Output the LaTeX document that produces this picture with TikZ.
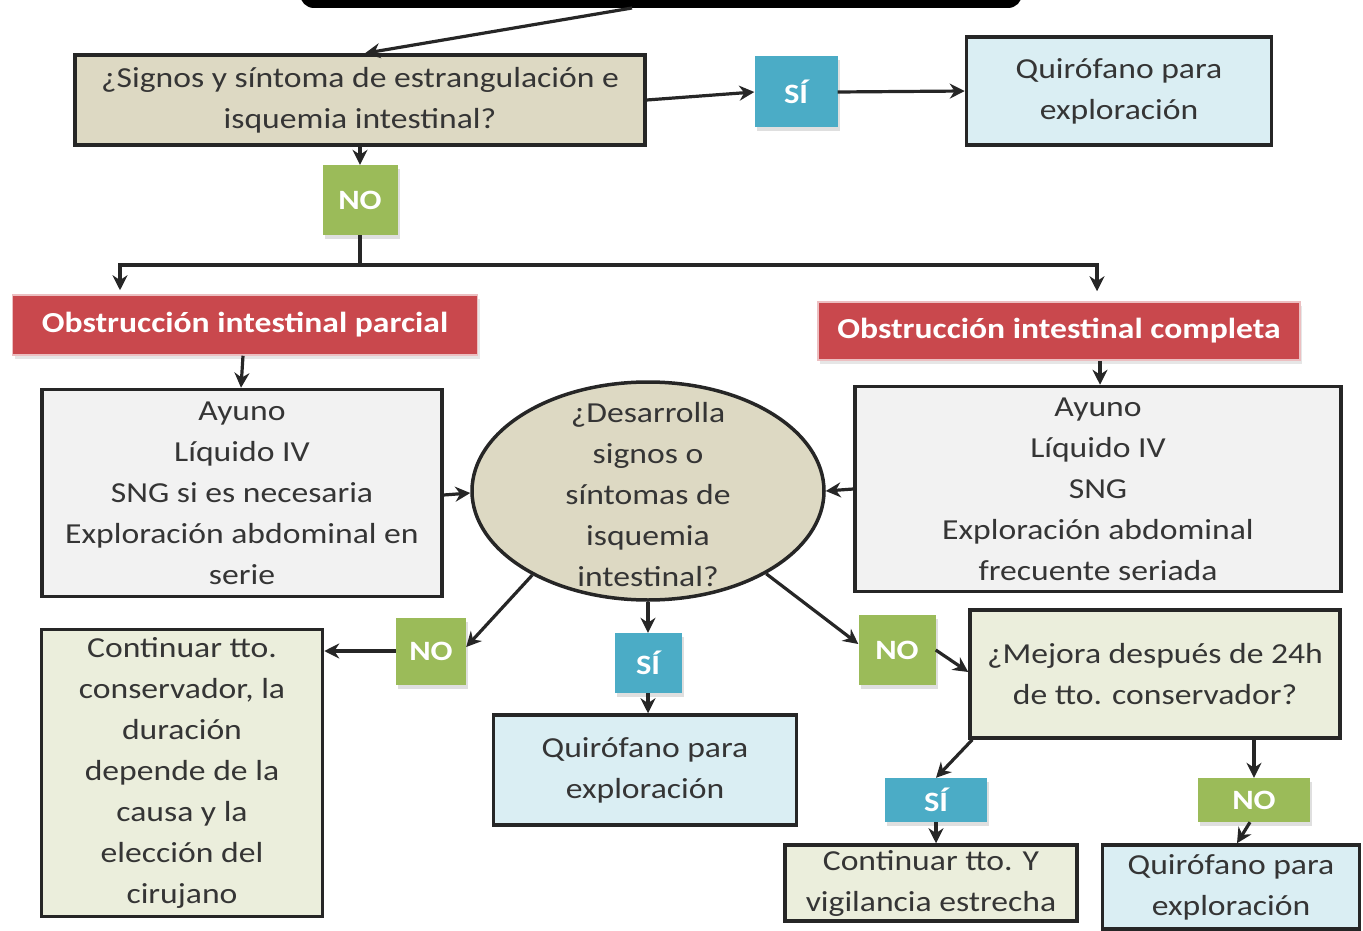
\documentclass[tikz,border=0pt]{standalone}
\usepackage{fontspec}
\setmainfont{Carlito}[FakeStretch=1.16]
\usetikzlibrary{arrows.meta,shapes.geometric,shadows}
\definecolor{beige}{HTML}{DDD9C3}
\definecolor{greybox}{HTML}{F2F2F2}
\definecolor{paleblue}{HTML}{DAEEF3}
\definecolor{paleolive}{HTML}{EBEEDC}
\definecolor{skyblue}{HTML}{4BACC6}
\definecolor{olive}{HTML}{9BBB59}
\definecolor{brick}{HTML}{C9484D}
\definecolor{ink}{HTML}{262626}
\definecolor{txt}{HTML}{353535}
\tikzset{
  box/.style={draw=ink, line width=3.5pt, align=center, text=txt, inner sep=0pt,
    font=\fontsize{29}{41}\selectfont},
  tag/.style={inner sep=0pt, text=white, align=center,
    font=\fontsize{28}{32}\selectfont\bfseries,
    drop shadow={opacity=0.25, shadow xshift=2pt, shadow yshift=-4pt}},
  redbox/.style={fill=brick, draw=brick!35, line width=1.5pt, text=white, inner sep=0pt,
    font=\fontsize{29}{34}\selectfont\bfseries,
    drop shadow={opacity=0.2, shadow xshift=2pt, shadow yshift=-4pt}},
  arr/.style={draw=ink, line width=3.2pt, -{Stealth[length=15pt,width=15pt]}},
  ln/.style={draw=ink, line width=3.2pt}
}
\begin{document}
\begin{tikzpicture}[x=1pt,y=-1pt]
\useasboundingbox (0,0) rectangle (1363,931);
\clip (0,0) rectangle (1363,931);
% top bar
\fill[black, rounded corners=14pt] (300,-40) rectangle (1022,8);
\coordinate (barpt) at (632,8);
% nodes
\node[box, fill=beige, minimum width=570, minimum height=90] (q1) at (360,100)
  {¿Signos y síntoma de estrangulación e\\isquemia intestinal?};
\node[tag, fill=skyblue, minimum width=83, minimum height=71] (si1) at (796,92) {SÍ};
\node[box, fill=paleblue, minimum width=305, minimum height=108] (qa) at (1119,91)
  {Quirófano para\\exploración};
\node[tag, fill=olive, minimum width=75, minimum height=70] (no1) at (360,200) {NO};
\coordinate (split) at (360,265);
\node[redbox, minimum width=465, minimum height=60] (par) at (245,325)
  {Obstrucción intestinal parcial};
\node[redbox, minimum width=482, minimum height=58] (com) at (1059,331)
  {Obstrucción intestinal completa};
\node[box, fill=greybox, minimum width=400, minimum height=207] (ay1) at (242,493)
  {Ayuno\\Líquido IV\\SNG si es necesaria\\Exploración abdominal en\\serie};
\node[box, fill=greybox, minimum width=486, minimum height=205] (ay2) at (1098,489)
  {Ayuno\\Líquido IV\\SNG\\Exploración abdominal\\frecuente seriada};
\node[box, ellipse, fill=beige, minimum width=352, minimum height=218] (ell) at (648,491) {};
\node[align=center, text=txt, inner sep=0pt, font=\fontsize{29}{41}\selectfont] (elltxt) at (648,495)
  {¿Desarrolla\\signos o\\síntomas de\\isquemia\\intestinal?};
\node[tag, fill=olive, minimum width=70, minimum height=67] (no2) at (431,651) {NO};
\node[box, fill=paleolive, minimum width=281, minimum height=287] (c1) at (182,773)
  {Continuar tto.\\conservador, la\\duración\\depende de la\\causa y la\\elección del\\cirujano};
\node[tag, fill=skyblue, minimum width=67, minimum height=60] (si2) at (648,663) {SÍ};
\node[box, fill=paleblue, minimum width=303, minimum height=110] (qb) at (645,770)
  {Quirófano para\\exploración};
\node[tag, fill=olive, minimum width=77, minimum height=70] (no3) at (897,650) {NO};
\node[box, fill=paleolive, minimum width=370, minimum height=128] (mej) at (1155,674)
  {¿Mejora después de 24h\\de tto. conservador?};
\node[tag, fill=skyblue, minimum width=102, minimum height=44] (si3) at (936,800) {SÍ};
\node[tag, fill=olive, minimum width=112, minimum height=44] (no4) at (1254,800) {NO};
\node[box, fill=paleolive, minimum width=292, minimum height=76] (c2) at (931,883)
  {Continuar tto. Y\\vigilancia estrecha};
\node[box, fill=paleblue, minimum width=257, minimum height=84] (qc) at (1231,887)
  {Quirófano para\\exploración};
% connectors
\draw[arr] (barpt) -- ([xshift=5pt]q1.north);
\draw[arr] (q1.east) -- (si1.west);
\draw[arr] (si1.east) -- (qa.west);
\draw[arr] (q1.south) -- (no1.north);
\draw[ln] (no1.south) -- (split);
\draw[arr] (split) -| ([xshift=-125pt,yshift=4pt]par.north);
\draw[arr] (split) -| ([xshift=38pt,yshift=10pt]com.north);
\draw[arr] ([xshift=-2pt]par.south) -- ([xshift=-1pt]ay1.north);
\draw[arr] ([xshift=41pt]com.south) -- ([xshift=2pt]ay2.north);
\draw[arr] ([yshift=-2pt]ay1.east) -- ([yshift=-2pt]ell.west);
\draw[arr] (ay2.west) -- (ell.east);
\draw[arr] (ell.216) -- ([yshift=4pt]no2.east);
\draw[arr] (no2.west) -- (no2.west -| c1.east);
\draw[arr] (ell.south) -- (si2.north);
\draw[arr] (si2.south) -- (si2.south |- qb.north);
\draw[arr] (ell.325) -- ([yshift=6pt]no3.west);
\draw[arr] (no3.east) -- ([yshift=2pt]mej.west);
\draw[arr] ([xshift=4pt]mej.south west) -- (si3.north);
\draw[arr] (si3.south) -- (si3.south |- c2.north);
\draw[arr] (no4.north |- mej.south) -- (no4.north);
\draw[arr] ([xshift=-4pt]no4.south) -- ([xshift=6pt]qc.north);
\end{tikzpicture}
\end{document}
